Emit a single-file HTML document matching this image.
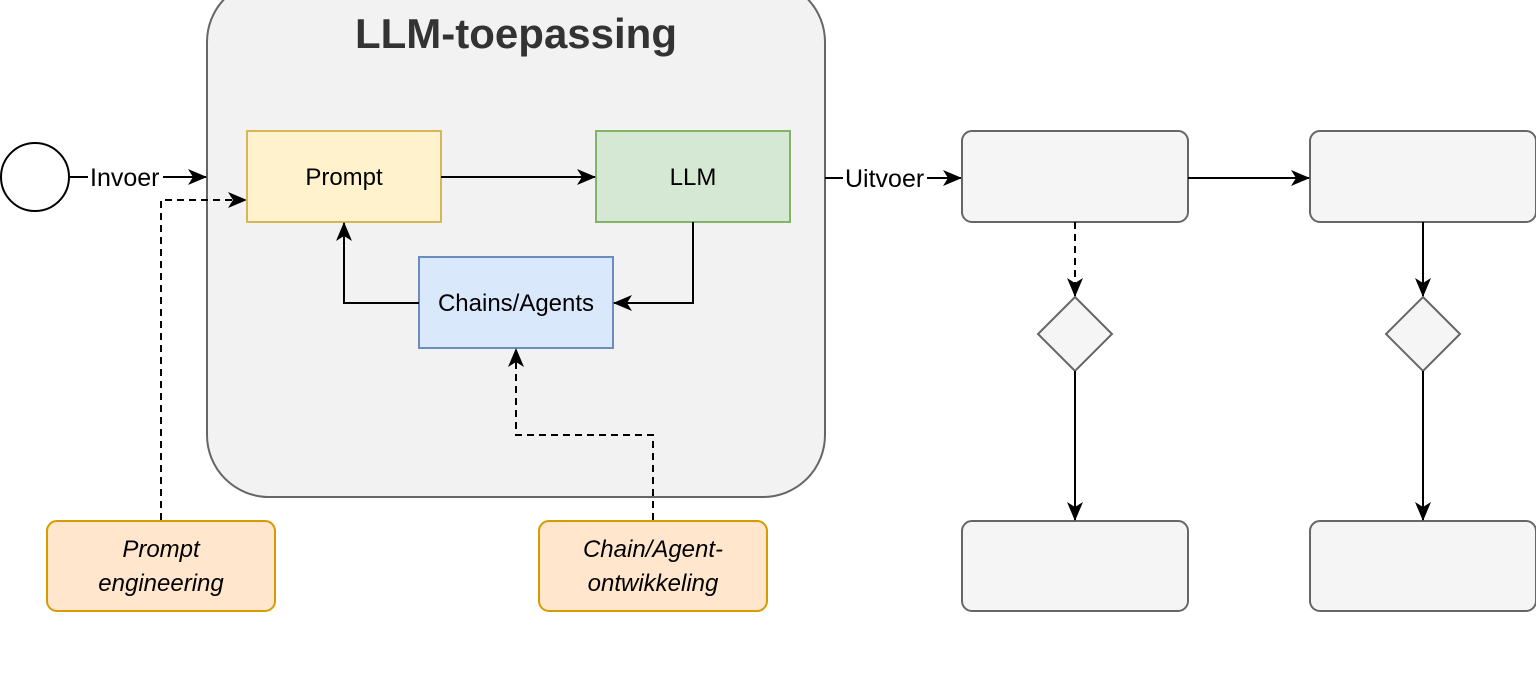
<!DOCTYPE html>
<html><head><style>html,body{margin:0;padding:0;background:#fff;}svg{display:block}</style></head>
<body>
<svg width="1536" height="688" viewBox="0 0 1536 688" xmlns="http://www.w3.org/2000/svg" font-family="Liberation Sans, sans-serif">
<defs>
<marker id="a" markerWidth="20" markerHeight="16" refX="18" refY="8" orient="auto" markerUnits="userSpaceOnUse"><path d="M0,0 L19,8 L0,16 L5,8 Z" fill="#000"/></marker>
</defs>
<rect x="207" y="-20" width="618" height="517" rx="62" fill="#f2f2f2" stroke="#666" stroke-width="2"/>
<text x="516" y="48" font-size="42" font-weight="bold" fill="#333" text-anchor="middle">LLM-toepassing</text>
<circle cx="35" cy="177" r="34" fill="#fff" stroke="#000" stroke-width="2"/>
<line x1="69" y1="177" x2="88" y2="177" stroke="#000" stroke-width="2"/>
<text x="90" y="186" font-size="25">Invoer</text>
<line x1="163" y1="177" x2="206" y2="177" stroke="#000" stroke-width="2" marker-end="url(#a)"/>
<path d="M161,520 L161,200 L246,200" fill="none" stroke="#000" stroke-width="2" stroke-dasharray="7,5" marker-end="url(#a)"/>
<rect x="247" y="131" width="194" height="91" fill="#fff2cc" stroke="#d6b656" stroke-width="2"/>
<text x="344" y="185" font-size="24" text-anchor="middle">Prompt</text>
<rect x="596" y="131" width="194" height="91" fill="#d5e8d4" stroke="#82b366" stroke-width="2"/>
<text x="693" y="185" font-size="24" text-anchor="middle">LLM</text>
<rect x="419" y="257" width="194" height="91" fill="#dae8fc" stroke="#6c8ebf" stroke-width="2"/>
<text x="516" y="311" font-size="24" text-anchor="middle">Chains/Agents</text>
<line x1="441" y1="177" x2="595" y2="177" stroke="#000" stroke-width="2" marker-end="url(#a)"/>
<path d="M693,222 L693,303 L614,303" fill="none" stroke="#000" stroke-width="2" marker-end="url(#a)"/>
<path d="M419,303 L344,303 L344,223" fill="none" stroke="#000" stroke-width="2" marker-end="url(#a)"/>
<path d="M653,520 L653,435 L516,435 L516,349" fill="none" stroke="#000" stroke-width="2" stroke-dasharray="7,5" marker-end="url(#a)"/>
<rect x="47" y="521" width="228" height="90" rx="10" fill="#ffe6cc" stroke="#d79b00" stroke-width="2"/>
<text x="161" y="557" font-size="24" font-style="italic" text-anchor="middle">Prompt</text>
<text x="161" y="591" font-size="24" font-style="italic" text-anchor="middle">engineering</text>
<rect x="539" y="521" width="228" height="90" rx="10" fill="#ffe6cc" stroke="#d79b00" stroke-width="2"/>
<text x="653" y="557" font-size="24" font-style="italic" text-anchor="middle">Chain/Agent-</text>
<text x="653" y="591" font-size="24" font-style="italic" text-anchor="middle">ontwikkeling</text>
<line x1="825" y1="178" x2="843" y2="178" stroke="#000" stroke-width="2"/>
<text x="845" y="187" font-size="25">Uitvoer</text>
<line x1="927" y1="178" x2="961" y2="178" stroke="#000" stroke-width="2" marker-end="url(#a)"/>
<g fill="#f5f5f5" stroke="#666" stroke-width="2">
<rect x="962" y="131" width="226" height="91" rx="10"/>
<rect x="1310" y="131" width="226" height="91" rx="10"/>
<rect x="962" y="521" width="226" height="90" rx="10"/>
<rect x="1310" y="521" width="226" height="90" rx="10"/>
<path d="M1075,297 L1112,334 L1075,371 L1038,334 Z"/>
<path d="M1423,297 L1460,334 L1423,371 L1386,334 Z"/>
</g>
<line x1="1188" y1="178" x2="1309" y2="178" stroke="#000" stroke-width="2" marker-end="url(#a)"/>
<line x1="1075" y1="222" x2="1075" y2="296" stroke="#000" stroke-width="2" stroke-dasharray="7,5" marker-end="url(#a)"/>
<line x1="1423" y1="222" x2="1423" y2="296" stroke="#000" stroke-width="2" marker-end="url(#a)"/>
<line x1="1075" y1="371" x2="1075" y2="520" stroke="#000" stroke-width="2" marker-end="url(#a)"/>
<line x1="1423" y1="371" x2="1423" y2="520" stroke="#000" stroke-width="2" marker-end="url(#a)"/>
</svg>
</body></html>
